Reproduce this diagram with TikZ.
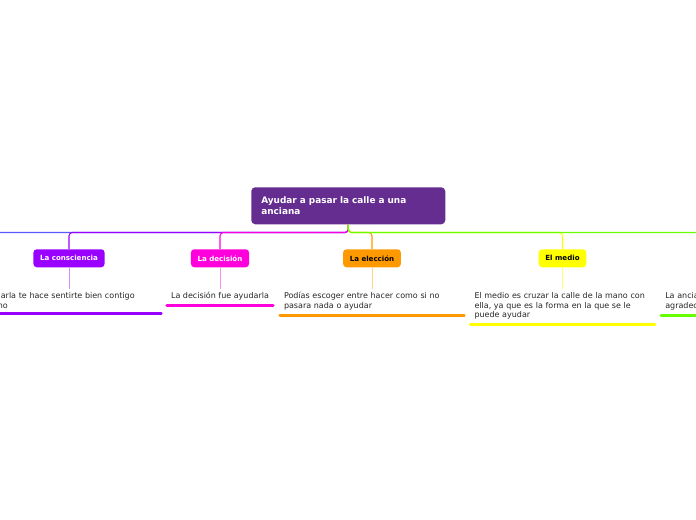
\documentclass[tikz,border=0pt]{standalone}
\usepackage{fontspec}
\setmainfont{DejaVu Sans}
\usetikzlibrary{positioning}

\definecolor{titlepurple}{RGB}{102,45,145}
\definecolor{consviolet}{RGB}{153,0,255}
\definecolor{decmagenta}{RGB}{255,0,221}
\definecolor{elecorange}{RGB}{255,153,0}
\definecolor{medyellow}{RGB}{255,255,0}
\definecolor{lastgreen}{RGB}{102,255,0}
\definecolor{farblue}{RGB}{90,90,255}

\begin{document}
\begin{tikzpicture}[
    x=0.75pt, y=-0.75pt,
    % Define styles
    title/.style={rectangle, rounded corners=3pt, fill=titlepurple, text=white, text width=130.5pt, align=left, inner xsep=7.5pt, minimum height=27.75pt, font=\fontsize{6.7}{8.25}\selectfont\bfseries},
    topic/.style={rectangle, rounded corners=2.5pt, minimum height=13.5pt, inner xsep=5pt, font=\fontsize{5.3}{6}\selectfont\bfseries},
    note/.style={inner xsep=3pt, inner ysep=2.5pt, align=left, text=black!85, font=\fontsize{6}{7.1}\selectfont},
    wide/.style={text width=132pt},
    branch/.style={line width=0.8pt, rounded corners=2.5pt},
    stem/.style={line width=0.5pt},
    underline/.style={line width=2.2pt, line cap=round}
]
\useasboundingbox (0,0) rectangle (696,520);
\clip (0,0) rectangle (696,520);

% 1. Central topic
\node[title, anchor=north west] (root) at (251,187) {Ayudar a pasar la calle a una\\anciana};

% 2. Main topics
\node[topic, fill=consviolet, text=white, anchor=north] (consc) at (69,249) {La consciencia};
\node[topic, fill=decmagenta, text=white, anchor=north] (decis) at (220,249) {La decisión};
\node[topic, fill=elecorange, text=black, anchor=north] (elecc) at (372,249) {La elección};
\node[topic, fill=medyellow, text=black, anchor=north] (medio) at (562.5,249) {El medio};
\coordinate (farleft) at (-160,249);
\coordinate (farright) at (753,249);

% 3. Notes
\node[note, wide, anchor=north] (conscnote) at (69,289) {Ayudarla te hace sentirte bien contigo\\mismo};
\node[note, anchor=north] (decisnote) at (220,289) {La decisión fue ayudarla};
\node[note, wide, anchor=north] (eleccnote) at (372,289) {Podías escoger entre hacer como si no\\pasara nada o ayudar};
\node[note, wide, anchor=north] (medionote) at (562.5,289) {El medio es cruzar la calle de la mano con\\ella, ya que es la forma en la que se le\\puede ayudar};
\node[note, wide, anchor=north west] (lastnote) at (661,289) {La anciana queda muy\\agradecida};

% Connections
% Left branches
\draw[branch, farblue] (root.south) -- ++(0,8) -| (farleft);
\draw[branch, consviolet] (root.south) -- ++(0,8) -| (consc.north);
\draw[branch, decmagenta] (root.south) -- ++(0,8) -| (decis.north);

% Right branches
\draw[branch, elecorange] (root.south) -- ++(0,8) -| (elecc.north);
\draw[branch, medyellow] (root.south) -- ++(0,8) -| (medio.north);
\draw[branch, lastgreen] (root.south) -- ++(0,8) -| (farright);

% Topics to notes
\draw[stem, consviolet!45] (consc.south) -- (conscnote.north);
\draw[stem, decmagenta!45] (decis.south) -- (decisnote.north);
\draw[stem, elecorange!45] (elecc.south) -- (eleccnote.north);
\draw[stem, medyellow!55] (medio.south) -- (medionote.north);

% Underlines
\draw[underline, consviolet] ([yshift=-1.5pt]conscnote.south west) -- ([yshift=-1.5pt]conscnote.south east);
\draw[underline, decmagenta] ([yshift=-0.8pt]decisnote.south west) -- ([yshift=-0.8pt]decisnote.south east);
\draw[underline, elecorange] ([yshift=-1.5pt]eleccnote.south west) -- ([yshift=-1.5pt]eleccnote.south east);
\draw[underline, medyellow] ([yshift=-1.5pt]medionote.south west) -- ([yshift=-1.5pt]medionote.south east);
\draw[underline, lastgreen] ([yshift=-1.5pt]lastnote.south west) -- ([yshift=-1.5pt]lastnote.south east);

\end{tikzpicture}
\end{document}
